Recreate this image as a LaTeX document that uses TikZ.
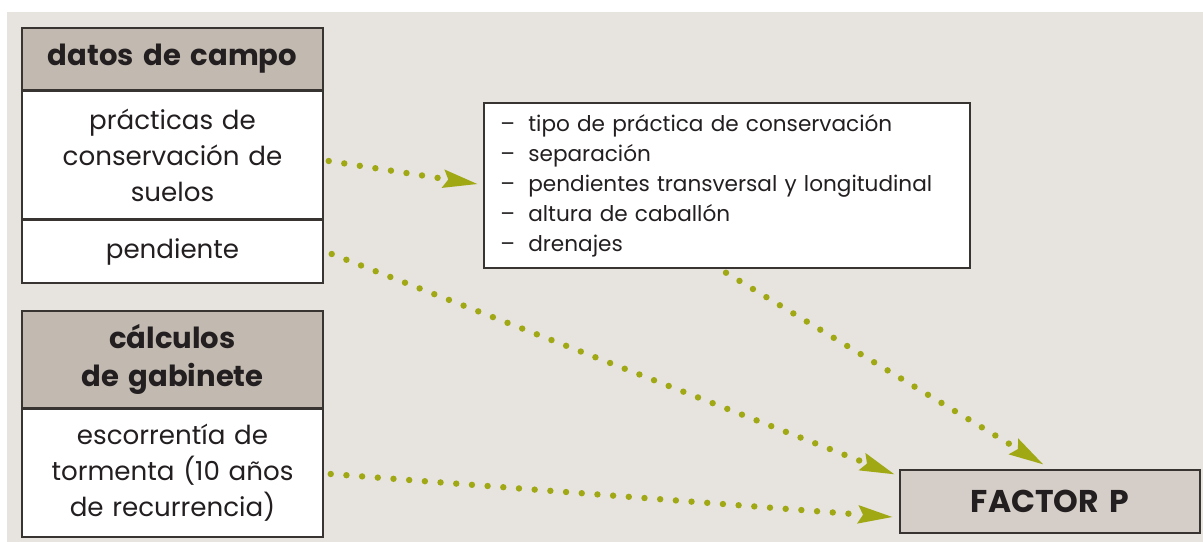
\documentclass[tikz,border=0pt]{standalone}
\usepackage{fontspec}
\setmainfont{Poppins}
\usetikzlibrary{arrows.meta}
\definecolor{bgc}{RGB}{231,227,223}
\definecolor{hdr}{RGB}{194,186,177}
\definecolor{fac}{RGB}{213,206,200}
\definecolor{olive}{RGB}{160,168,20}
\definecolor{edge}{RGB}{55,52,50}
\definecolor{ink}{RGB}{35,31,32}
\tikzset{
  cell/.style={draw=edge, line width=1.1pt, fill=white, minimum width=225.75pt, text width=215pt, align=center, inner sep=0pt, font=\fontsize{19.6}{27}\selectfont, text=ink},
  hcell/.style={cell, fill=hdr, font=\fontsize{21.8}{28}\selectfont\bfseries},
  flow/.style={olive, line width=4.8pt, line cap=round, dash pattern=on 0pt off 11.8pt,
    -{Stealth[length=26pt, width=14pt, inset=4pt, line width=0pt]}}
}
\begin{document}
\begin{tikzpicture}[x=0.75pt, y=-0.75pt]
\useasboundingbox (0,0) rectangle (1203,542);
\fill[bgc] (7,12) rectangle (1203,542);
\node[hcell, minimum height=46.5pt] (h1) at (172.5,59) {datos de campo};
\node[cell, minimum height=96pt] (prac) at (172.5,155) {prácticas de\\conservación de\\suelos};
\node[cell, minimum height=47.25pt] (pend) at (172.5,251.5) {pendiente};
\node[hcell, minimum height=72.75pt] (h2) at (172.5,359.5) {cálculos\\de gabinete};
\node[cell, minimum height=96pt] (esc) at (172.5,473) {escorrentía de\\tormenta (10 años\\de recurrencia)};
\node[draw=edge, line width=1.1pt, fill=white, minimum width=364.5pt, minimum height=123.75pt, text width=340pt, align=left, inner sep=0pt, font=\fontsize{16.2}{22.5}\selectfont, text=ink] (list) at (727,185.5)
 {\makebox[21pt][l]{–}tipo de práctica de conservación\\
  \makebox[21pt][l]{–}separación\\
  \makebox[21pt][l]{–}pendientes transversal y longitudinal\\
  \makebox[21pt][l]{–}altura de caballón\\
  \makebox[21pt][l]{–}drenajes};
\node[draw=edge, line width=1.1pt, fill=fac, minimum width=225pt, minimum height=47.25pt, inner sep=0pt, font=\fontsize{23.6}{28}\selectfont\bfseries, text=ink] (fp) at (1050,501.5) {FACTOR\,\,P};
\draw[flow] ([shift={(5,6)}]prac.east) -- ([shift={(-6,-1.5)}]list.west);
\draw[flow] ([shift={(8,2.5)}]pend.east) -- ([shift={(-5,5)}]fp.north west);
\draw[flow] ([shift={(7,1)}]esc.east) -- ([shift={(-7,15.5)}]fp.west);
\draw[flow] ([shift={(-1,4)}]list.south) -- ([shift={(-7,-5)}]fp.north);
\end{tikzpicture}
\end{document}
